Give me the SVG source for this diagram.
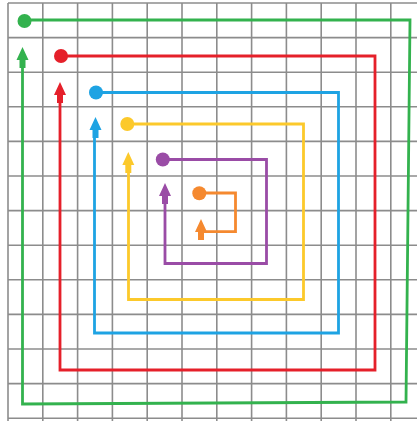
<svg xmlns="http://www.w3.org/2000/svg" xmlns:xlink="http://www.w3.org/1999/xlink" width="417" height="421" viewBox="0 0 417 421">
<style>
.grid line{stroke:#8c8c8c;stroke-width:1.6}
.sp{fill:none;stroke-width:2.8;stroke-linejoin:miter}
.g{stroke:#33b24e;fill:#33b24e}
.r{stroke:#e5202a;fill:#e5202a}
.b{stroke:#1ea3e3;fill:#1ea3e3}
.y{stroke:#fcc92b;fill:#fcc92b}
.p{stroke:#9a4ca6;fill:#9a4ca6}
.o{stroke:#f5892f;fill:#f5892f}
path.sp{fill:none}
.dot,.arr{stroke:none}
</style>
<defs>
<path id="arr" d="M0,0 L6,13 L3,13 L3,21 L-3,21 L-3,13 L-6,13 Z"/>
</defs>
<rect width="417" height="421" fill="#ffffff"/>
<g class="grid" id="grid">
<line x1="8" y1="3" x2="8" y2="421"/>
<line x1="42.8" y1="3" x2="42.8" y2="421"/>
<line x1="77.6" y1="3" x2="77.6" y2="421"/>
<line x1="112.4" y1="3" x2="112.4" y2="421"/>
<line x1="147.2" y1="3" x2="147.2" y2="421"/>
<line x1="182" y1="3" x2="182" y2="421"/>
<line x1="216.8" y1="3" x2="216.8" y2="421"/>
<line x1="251.6" y1="3" x2="251.6" y2="421"/>
<line x1="286.4" y1="3" x2="286.4" y2="421"/>
<line x1="321.2" y1="3" x2="321.2" y2="421"/>
<line x1="356" y1="3" x2="356" y2="421"/>
<line x1="390.8" y1="3" x2="390.8" y2="421"/>
<line x1="8" y1="3" x2="417" y2="3"/>
<line x1="8" y1="37.6" x2="417" y2="37.6"/>
<line x1="8" y1="72.2" x2="417" y2="72.2"/>
<line x1="8" y1="106.8" x2="417" y2="106.8"/>
<line x1="8" y1="141.4" x2="417" y2="141.4"/>
<line x1="8" y1="176" x2="417" y2="176"/>
<line x1="8" y1="210.6" x2="417" y2="210.6"/>
<line x1="8" y1="245.2" x2="417" y2="245.2"/>
<line x1="8" y1="279.8" x2="417" y2="279.8"/>
<line x1="8" y1="314.4" x2="417" y2="314.4"/>
<line x1="8" y1="349" x2="417" y2="349"/>
<line x1="8" y1="383.6" x2="417" y2="383.6"/>
<line x1="8" y1="418.2" x2="417" y2="418.2"/>
</g>
<g id="connectors">
<path class="sp g" d="M24,20 H410 L406,402 L22.5,404 V66"/>
<path class="sp r" d="M61,56 H375 V370 H60 V101"/>
<path class="sp b" d="M96,92.5 H338.5 V333 H94.5 V136"/>
<path class="sp y" d="M127,124 H303.5 V299.5 H128.5 V171"/>
<path class="sp p" d="M163,159.5 H266.5 V263.5 H165 V202"/>
<path class="sp o" d="M199,193 H235.5 V231.7 H203"/>
</g>
<g id="green"><circle class="dot g" cx="24.5" cy="21" r="7"/><use class="arr g" xlink:href="#arr" href="#arr" x="22.5" y="47"/></g>
<g id="red"><circle class="dot r" cx="61" cy="56" r="7"/><use class="arr r" xlink:href="#arr" href="#arr" x="60" y="82"/></g>
<g id="blue"><circle class="dot b" cx="96" cy="92.5" r="7"/><use class="arr b" xlink:href="#arr" href="#arr" x="95.5" y="117"/></g>
<g id="yellow"><circle class="dot y" cx="127.3" cy="124" r="7"/><use class="arr y" xlink:href="#arr" href="#arr" x="128.3" y="152"/></g>
<g id="purple"><circle class="dot p" cx="162.8" cy="159.5" r="7"/><use class="arr p" xlink:href="#arr" href="#arr" x="165" y="183"/></g>
<g id="orange"><circle class="dot o" cx="199.3" cy="193.3" r="7"/><use class="arr o" xlink:href="#arr" href="#arr" x="201" y="219"/></g>
</svg>
